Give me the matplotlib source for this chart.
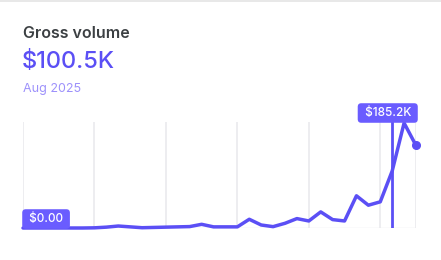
import matplotlib
matplotlib.use("Agg")
import matplotlib.pyplot as plt
from matplotlib.lines import Line2D

# Monthly gross volume, Jan 2023 .. Oct 2025 (thousands of $)
months = list(range(34))
values = [0, 0, 0, 0, 0, 0, 0.3, 1.5, 3.5, 2.0, 0.5, 1.0, 1.5, 2.0, 2.5,
          6.5, 2.0, 2.0, 2.0, 15.4, 5.3, 2.4, 8.3, 16.6, 12.4, 28.4, 14.8,
          12.4, 56.8, 40.2, 46.2, 100.5, 185.2, 145.6]
grid_months = [0, 6, 12, 18, 24, 30, 33]
hover_index = 31
title = "Gross volume"
headline = "$100.5K"
subtitle = "Aug 2025"
min_label = "$0.00"
max_label = "$185.2K"

PURPLE = "#5b4ff5"
BOX = "#6a5cff"
W, H = 441, 260
fig = plt.figure(figsize=(W / 100, H / 100), dpi=100)
fig.patch.set_facecolor("white")
fig.add_artist(Line2D([0, 1], [1 - 1 / H, 1 - 1 / H], color="#e4e4e4", lw=1.2))

fig.text(23 / W, 1 - 33 / H, title, fontsize=11.5, color="#3c4043",
         fontweight="semibold", va="center", ha="left", family="Inter")
fig.text(22 / W, 1 - 62 / H, headline, fontsize=17, color=PURPLE,
         fontweight="medium", va="center", ha="left", family="Inter")
fig.text(23 / W, 1 - 89 / H, subtitle, fontsize=9, color="#9d91fb",
         va="center", ha="left", family="Inter")

ax = fig.add_axes([23 / W, (H - 228) / H, 393 / W, 106 / H])
ax.set_xlim(0, 33)
ax.set_ylim(0, 187)
for s in ax.spines.values():
    s.set_visible(False)
ax.set_xticks([])
ax.set_yticks([])

for g in grid_months:
    ax.axvline(g, color="#e8e8ec", lw=1.1, zorder=1)
ax.axhline(0, color="#e8e8ec", lw=1.0, zorder=1)

ax.axvline(hover_index, color=PURPLE, lw=2.0, zorder=2)
ax.plot(months, values, color=PURPLE, lw=2.5, zorder=3, clip_on=False,
        solid_joinstyle="round", solid_capstyle="round")
ax.plot([months[-1]], [values[-1]], "o", color=PURPLE, ms=5.5, zorder=4,
        clip_on=False)

box = dict(boxstyle="round,pad=0.32,rounding_size=0.3", fc=BOX, ec="none")
ax.annotate(" " + min_label + " ", xy=(0, 0), xycoords="data", xytext=(3, 3),
            textcoords="offset pixels", ha="left", va="bottom",
            fontsize=8.5, color="white", family="Inter", fontweight="medium",
            bbox=box, zorder=5, annotation_clip=False)
ax.annotate(" " + max_label + " ", xy=(33, 187), xycoords="data", xytext=(-2, 3),
            textcoords="offset pixels", ha="right", va="bottom",
            fontsize=8.5, color="white", family="Inter", fontweight="medium",
            bbox=box, zorder=5, annotation_clip=False)

fig.savefig("out.png", dpi=100)
